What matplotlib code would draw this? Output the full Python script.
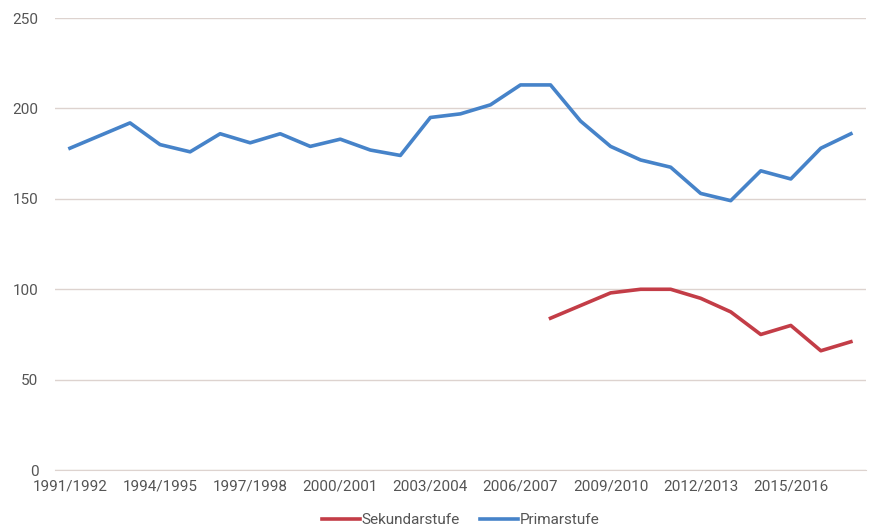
import numpy as np
import matplotlib.pyplot as plt

plt.rcParams['font.family'] = ['Roboto', 'DejaVu Sans']

years = [f'{y}/{y + 1}' for y in range(1991, 2018)]

primar = [178, 185, 192, 180, 176, 186, 181, 186, 179, 183, 177, 174, 195, 197,
          202, 213, 213, 193, 179, 171.5, 167.5, 153, 149, 165.5, 161, 178, 186]

# secondary level only reported from 2007/2008 on
sekundar = [None] * 16 + [84, 91, 98, 100, 100, 95, 87.5, 75, 80, 66, 71]

blue = '#4683c9'
red = '#c33d47'
grid_col = '#ddd3cf'
text_col = '#555555'

x = np.arange(len(years))
sek = np.array([np.nan if v is None else v for v in sekundar], dtype=float)

fig = plt.figure(figsize=(8.72, 5.30), dpi=100)
ax = fig.add_axes([0.063, 0.113, 0.93, 0.853])

ax.plot(x, sek, color=red, lw=2.6, label='Sekundarstufe', solid_joinstyle='round')
ax.plot(x, primar, color=blue, lw=2.6, label='Primarstufe', solid_joinstyle='round')

ax.set_xlim(-0.5, len(years) - 0.5)
ax.set_ylim(0, 250)
ax.set_yticks(np.arange(0, 251, 50))
ax.set_xticks(x[::3])
ax.set_xticklabels(years[::3])

ax.grid(axis='y', color=grid_col, lw=1.0)
ax.set_axisbelow(True)
for s in ['top', 'right', 'left']:
    ax.spines[s].set_visible(False)
ax.spines['bottom'].set_color(grid_col)
ax.tick_params(axis='both', length=0, labelsize=11, colors=text_col)
ax.tick_params(axis='y', pad=12)
ax.tick_params(axis='x', pad=7)

ax.legend(loc='upper center', bbox_to_anchor=(0.5, -0.072), ncol=2, frameon=False,
          fontsize=11, labelcolor=text_col, handlelength=2.5, handletextpad=0.1,
          columnspacing=1.3, borderpad=0.2)

fig.savefig('out.png', dpi=100)
